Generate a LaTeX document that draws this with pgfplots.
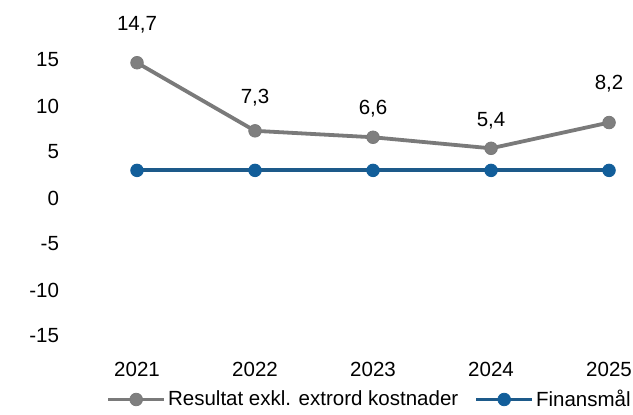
\documentclass[border=0pt]{standalone}
\usepackage{fontspec}
\setmainfont{Liberation Sans}
\usepackage{pgfplots}
\usepackage{pgfplotstable}
\pgfplotsset{compat=1.18}
\definecolor{gline}{HTML}{7A7A7A}
\definecolor{gmark}{HTML}{7F7F7F}
\definecolor{bline}{HTML}{1D5A8A}
\definecolor{bmark}{HTML}{125E9A}
\pgfplotstableread{
x y off lab
0 14.7 38 14,7
1 7.3 33 7,3
2 6.6 29 6,6
3 5.4 28 5,4
4 8.2 39 8,2
}\resultat
\pgfplotstableread{
x y
0 3
1 3
2 3
3 3
4 3
}\finans
\begin{document}
\fontsize{20.5}{24}\selectfont
\begin{tikzpicture}
\begin{axis}[
  x=118pt, y=9.2pt,
  xmin=-0.5, xmax=4.2, ymin=-17, ymax=20,
  clip=false,
  axis line style={draw=none},
  major tick length=0pt,
  xtick={0,1,2,3,4},
  xticklabels={2021,2022,2023,2024,2025},
  ytick={-15,-10,-5,0,5,10,15},
  /pgf/number format/assume math mode=true,
  ticklabel style={font=\fontsize{20.5}{24}\selectfont},
  yticklabel style={anchor=east, xshift=-12pt},
  xticklabel style={yshift=-1pt},
  legend style={draw=none, fill=none, at={(axis cs:1.97,-21.9)}, anchor=center,
    legend columns=2, font=\fontsize{20.5}{24}\selectfont,
    /tikz/every even column/.append style={column sep=14pt},
    inner sep=0pt},
  legend image code/.code={\draw[mark repeat=2,mark phase=2,#1] plot coordinates {(0pt,0pt) (28pt,0pt) (56pt,0pt)};},
]
\addplot[color=gline, line width=3.8pt, mark=*, mark size=6.3pt,
  mark options={fill=gmark, draw=gline, line width=0.8pt},
  visualization depends on={\thisrow{off}\as\off},
  nodes near coords, point meta=explicit symbolic,
  nodes near coords style={anchor=center, yshift=\off pt, text=black, font=\fontsize{20.5}{24}\selectfont}]
  table[x=x, y=y, meta=lab] {\resultat};
\addlegendentry{Resultat exkl. extrord kostnader}
\addplot[color=bline, line width=3.8pt, mark=*, mark size=6.3pt,
  mark options={fill=bmark, draw=bmark, line width=0.8pt}]
  table[x=x, y=y] {\finans};
\addlegendentry{Finansmål}
\coordinate (bl) at (axis cs:-1.161,-23.48);
\coordinate (tr) at (axis cs:4.203,21.52);
\end{axis}
\pgfresetboundingbox
\path[use as bounding box] (bl) rectangle (tr);
\end{tikzpicture}
\end{document}
